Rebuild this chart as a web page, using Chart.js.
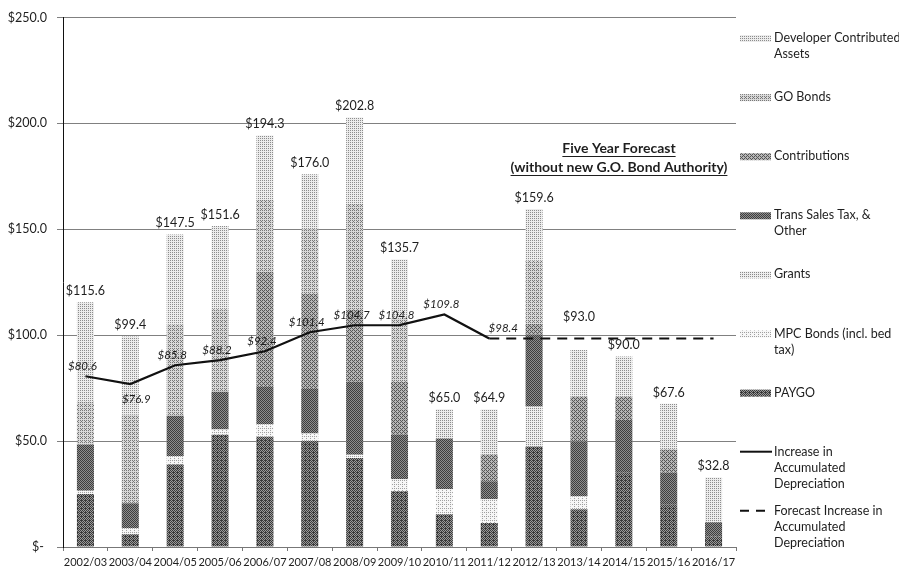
<!DOCTYPE html>
<html>

<head>
    <script src="https://cdn.jsdelivr.net/npm/chart.js"></script>
    <style>
        body { margin: 0; background: #fff; }
        #wrapper { width: 899px; height: 573px; }
    </style>
</head>

<body>
    <div id="wrapper">
        <canvas id="funding"></canvas>
    </div>
</body>

</html>

<script>
    // fiscal years
    var years = ['2002/03', '2003/04', '2004/05', '2005/06', '2006/07', '2007/08', '2008/09', '2009/10',
        '2010/11', '2011/12', '2012/13', '2013/14', '2014/15', '2015/16', '2016/17'];

    // funding sources, $ millions, stacked bottom to top
    var paygo         = [25.0, 6.0, 39.0, 53.0, 52.0, 50.0, 42.0, 26.3, 15.5, 11.3, 47.5, 17.8, 35.0, 20.0, 5.0];
    var mpcBonds      = [1.5, 3.0, 4.0, 2.5, 6.0, 3.6, 1.5, 5.7, 11.8, 11.3, 0, 6.2, 0, 0, 0];
    var grants        = [0, 0, 0, 0, 0, 0, 0, 0, 0, 0, 18.8, 0, 0, 0, 0];
    var transSalesTax = [21.9, 11.6, 19.0, 17.8, 17.6, 21.0, 34.5, 21.0, 23.9, 8.4, 34.0, 25.8, 25.0, 15.0, 6.7];
    var contributions = [0, 0, 0, 0, 54.4, 45.0, 34.0, 25.0, 0, 12.7, 5.0, 21.2, 11.0, 11.0, 0];
    var goBonds       = [20.2, 42.0, 43.0, 39.0, 34.0, 30.4, 50.0, 30.0, 0, 0, 30.0, 0, 0, 0, 0];
    var devAssets     = [47.0, 36.8, 42.5, 39.3, 30.3, 26.0, 40.8, 27.7, 13.8, 21.2, 24.3, 22.0, 19.0, 21.6, 21.1];

    // increase in accumulated depreciation (actual, then forecast)
    var depreciation = [80.6, 76.9, 85.8, 88.2, 92.4, 101.4, 104.7, 104.8, 109.8, 98.4, null, null, null, null, null];
    var forecastDepreciation = [null, null, null, null, null, null, null, null, null, 98.4, 98.4, 98.4, 98.4, 98.4, 98.4];

    var yTicks = [0, 50, 100, 150, 200, 250];

    var FONT = 'Lato, "Open Sans", sans-serif';

    // ordered dither so the bars get a scanned, stippled look
    var bayer = [[0, 8, 2, 10], [12, 4, 14, 6], [3, 11, 1, 9], [15, 7, 13, 5]];
    function stipple(bg, fg, level) {
        var c = document.createElement('canvas');
        c.width = 4;
        c.height = 4;
        var g = c.getContext('2d');
        g.fillStyle = bg;
        g.fillRect(0, 0, 4, 4);
        g.fillStyle = fg;
        for (var r = 0; r < 4; r++) {
            for (var k = 0; k < 4; k++) {
                if (bayer[r][k] < level) g.fillRect(k, r, 1, 1);
            }
        }
        return g.createPattern(c, 'repeat');
    }

    var fills = {
        paygo: stipple('#9a9a9a', '#3a3a3a', 9),
        mpc: stipple('#f6f6f6', '#a0a0a0', 3),
        grants: stipple('#eeeeee', '#8a8a8a', 4),
        tst: stipple('#8e8e8e', '#3e3e3e', 8),
        contrib: stipple('#b6b6b6', '#555555', 6),
        go: stipple('#d8d8d8', '#777777', 5),
        dev: stipple('#ececec', '#8c8c8c', 4)
    };

    function barSet(label, data, fill) {
        return {
            type: 'bar',
            label: label,
            data: data,
            backgroundColor: fill,
            borderWidth: 0,
            stack: 'funds',
            order: 2,
            categoryPercentage: 1.0,
            barPercentage: 0.38
        };
    }

    // totals, depreciation values and the forecast note
    var labelPlugin = {
        id: 'labels',
        afterDatasetsDraw: function (chart) {
            var ctx = chart.ctx;
            var x = chart.scales.x, y = chart.scales.y;
            var stacks = [paygo, mpcBonds, grants, transSalesTax, contributions, goBonds, devAssets];
            ctx.save();
            ctx.fillStyle = '#1e1e1e';
            ctx.textAlign = 'center';
            ctx.textBaseline = 'bottom';
            ctx.font = '12.5px ' + FONT;
            for (var i = 0; i < years.length; i++) {
                var total = 0;
                stacks.forEach(function (s) { total += s[i]; });
                var top = y.getPixelForValue(total) - 5;
                if (i === 11) top -= 22;
                ctx.fillText('$' + total.toFixed(1), x.getPixelForValue(i), top);
            }

            ctx.font = 'italic 11.5px ' + FONT;
            ctx.textBaseline = 'middle';
            depreciation.forEach(function (v, i) {
                if (v === null) return;
                var px = x.getPixelForValue(i) - 3;
                var py = y.getPixelForValue(v) - 10;
                if (i === 1) { px += 9; py += 25; }
                if (i === 9) { px += 17; }
                ctx.fillText('$' + v.toFixed(1), px, py);
            });

            ctx.font = 'bold 14px ' + FONT;
            ctx.lineWidth = 1;
            ctx.strokeStyle = '#1e1e1e';
            [['Five Year Forecast', 148], ['(without new G.O. Bond Authority)', 167]].forEach(function (t) {
                var w = ctx.measureText(t[0]).width;
                ctx.fillText(t[0], 619, t[1]);
                ctx.beginPath();
                ctx.moveTo(619 - w / 2, t[1] + 8.5);
                ctx.lineTo(619 + w / 2, t[1] + 8.5);
                ctx.stroke();
            });
            ctx.restore();
        }
    };

    // legend column on the right side
    var legendItems = [
        { lines: ['Developer Contributed', 'Assets'], fill: fills.dev },
        { lines: ['GO Bonds'], fill: fills.go },
        { lines: ['Contributions'], fill: fills.contrib },
        { lines: ['Trans Sales Tax, &', 'Other'], fill: fills.tst },
        { lines: ['Grants'], fill: fills.grants },
        { lines: ['MPC Bonds (incl. bed', 'tax)'], fill: fills.mpc },
        { lines: ['PAYGO'], fill: fills.paygo },
        { lines: ['Increase in', 'Accumulated', 'Depreciation'], line: [] },
        { lines: ['Forecast Increase in', 'Accumulated', 'Depreciation'], line: [9, 7] }
    ];

    var legendPlugin = {
        id: 'sideLegend',
        afterDraw: function (chart) {
            var ctx = chart.ctx;
            ctx.save();
            ctx.font = '12.5px ' + FONT;
            ctx.fillStyle = '#1e1e1e';
            ctx.textBaseline = 'middle';
            legendItems.forEach(function (item, n) {
                var yy = 38 + n * 59.1;
                if (item.fill) {
                    ctx.fillStyle = item.fill;
                    ctx.fillRect(740, yy - 3, 31, 7);
                } else {
                    ctx.strokeStyle = '#111';
                    ctx.lineWidth = 2;
                    ctx.setLineDash(item.line);
                    ctx.beginPath();
                    ctx.moveTo(740, yy);
                    ctx.lineTo(772, yy);
                    ctx.stroke();
                    ctx.setLineDash([]);
                }
                ctx.fillStyle = '#1e1e1e';
                item.lines.forEach(function (t, j) {
                    ctx.fillText(t, 774, yy + j * 16);
                });
            });
            ctx.restore();
        }
    };

    var chart = new Chart('funding', {
        data: {
            labels: years,
            datasets: [
                barSet('PAYGO', paygo, fills.paygo),
                barSet('MPC Bonds (incl. bed tax)', mpcBonds, fills.mpc),
                barSet('Grants', grants, fills.grants),
                barSet('Trans Sales Tax, & Other', transSalesTax, fills.tst),
                barSet('Contributions', contributions, fills.contrib),
                barSet('GO Bonds', goBonds, fills.go),
                barSet('Developer Contributed Assets', devAssets, fills.dev),
                {
                    type: 'line',
                    label: 'Increase in Accumulated Depreciation',
                    data: depreciation,
                    borderColor: '#111',
                    borderWidth: 2.2,
                    pointRadius: 0,
                    tension: 0,
                    stack: 'actual',
                    order: 0
                },
                {
                    type: 'line',
                    label: 'Forecast Increase in Accumulated Depreciation',
                    data: forecastDepreciation,
                    borderColor: '#111',
                    borderWidth: 2,
                    borderDash: [10, 7],
                    pointRadius: 0,
                    tension: 0,
                    stack: 'forecast',
                    order: 1
                }
            ]
        },
        options: {
            responsive: true,
            maintainAspectRatio: false,
            animation: false,
            layout: { padding: { left: 0, right: 163, top: 14, bottom: 0 } },
            plugins: {
                legend: { display: false },
                tooltip: { enabled: false }
            },
            scales: {
                x: {
                    stacked: true,
                    afterFit: function (s) { s.height = 26; },
                    grid: { drawOnChartArea: false, drawTicks: true, tickLength: 4, color: '#777' },
                    border: { color: '#777' },
                    ticks: { color: '#1e1e1e', font: { family: FONT, size: 11 }, padding: 5, maxRotation: 0, autoSkip: false }
                },
                y: {
                    stacked: true,
                    min: 0,
                    max: 250,
                    afterFit: function (s) { s.width = 63; },
                    afterBuildTicks: function (s) {
                        s.ticks = yTicks.map(function (v) { return { value: v }; });
                    },
                    grid: { color: '#808080', lineWidth: 1, tickLength: 6 },
                    border: { color: '#111', width: 1 },
                    ticks: {
                        color: '#1e1e1e',
                        font: { family: FONT, size: 12.5 },
                        padding: 10,
                        callback: function (v) { return v === 0 ? '$- ' : '$' + v.toFixed(1); }
                    }
                }
            }
        },
        plugins: [labelPlugin, legendPlugin]
    });
</script>
